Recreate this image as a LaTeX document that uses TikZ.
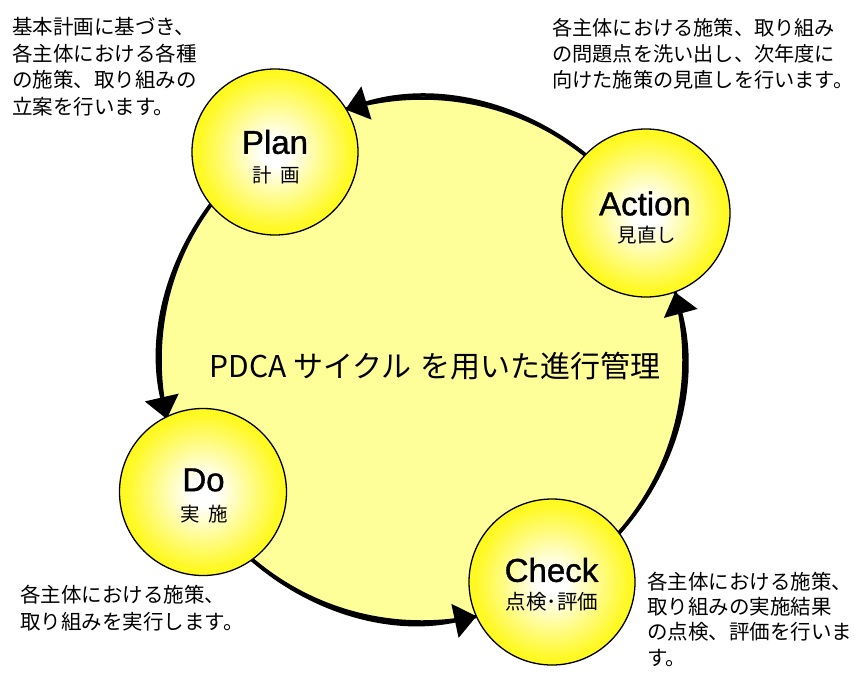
\documentclass[tikz,border=0pt]{standalone}
\usepackage{fontspec}
\setmainfont{Liberation Sans}
\newfontfamily\jp{Noto Sans CJK JP}
\newfontfamily\enb{Liberation Sans}[FakeBold=1.2]
\usetikzlibrary{arrows.meta}
\definecolor{bigfill}{RGB}{255,255,153}
\definecolor{ylw}{RGB}{255,248,0}
\colorlet{ylwA}{ylw!45!white}
\colorlet{ylwB}{ylw!85!white}
\colorlet{ylwC}{ylw!94!black}
\pgfdeclareradialshading{ballshade}{\pgfpoint{0bp}{0bp}}{color(0bp)=(white); color(4bp)=(white); color(14bp)=(ylwA); color(23bp)=(ylwB); color(31bp)=(ylw); color(50bp)=(ylwC)}
\tikzset{
  stage/.style={circle, draw=black, line width=1.3pt, shading=ballshade, minimum size=#1, inner sep=0pt, outer sep=0pt},
  flow/.style={line width=3.5pt, -{Triangle[length=22pt,width=34pt]}},
  en/.style={font=\enb\fontsize{33}{33}\selectfont, inner sep=0pt},
  jpl/.style={font=\jp\fontsize{19.5}{19.5}\selectfont, inner sep=0pt},
  note/.style={font=\jp\fontsize{20.5}{#1}\selectfont, align=left, anchor=north west, inner sep=0pt}
}
\begin{document}
\begin{tikzpicture}[x=1pt,y=1pt]
\fill[white] (0,0) rectangle (854,-672);
\useasboundingbox (0,0) rectangle (854,-672);
% big cycle
\node[circle, minimum size=524pt, inner sep=0pt, outer sep=0pt, draw=black, line width=3.5pt, fill=bigfill] (cycle) at (422,-360) {};
\node[font=\jp\fontsize{30}{30}\selectfont, inner sep=0pt] (title) at (435,-366.5) {PDCA サイクル\hspace{9pt}を用いた進行管理};
% connectors along the cycle
\draw[flow] (cycle.125) arc[start angle=125, end angle=193, radius=262pt];
\draw[flow] (cycle.211) arc[start angle=211, end angle=282, radius=262pt];
\draw[flow] (cycle.300) arc[start angle=300, end angle=375, radius=262pt];
\draw[flow] (cycle.33) arc[start angle=33, end angle=107, radius=262pt];
% stages
\node[stage=166pt] (Plan) at (275,-152) {};
\node[stage=168pt] (Action) at (646,-213) {};
\node[stage=167pt] (Do) at (203,-492) {};
\node[stage=166pt] (Check) at (552,-582) {};
\node[en] (planen) at (275,-142) {Plan};
\node[jpl] (planjp) at (276,-175.5) {計\hspace{9pt}画};
\node[en] (actionen) at (645,-203.5) {Action};
\node[jpl] (actionjp) at (647,-235) {見直し};
\node[en] (doen) at (203.5,-480) {Do};
\node[jpl] (dojp) at (204,-514) {実\hspace{9pt}施};
\node[en] (checken) at (551.5,-570) {Check};
\node[jpl, font=\jp\fontsize{20.5}{20.5}\selectfont] (checkjp) at (552,-602) {点検･評価};
% notes
\node[note=26.7] (notePlan) at (12,-17) {基本計画に基づき、\\各主体における各種\\の施策、取り組みの\\立案を行います。};
\node[note=26, font=\jp\fontsize{20.2}{26}\selectfont] (noteAction) at (552,-18) {各主体における施策、取り組み\\の問題点を洗い出し、次年度に\\向けた施策の見直しを行います。};
\node[note=25.2] (noteCheck) at (647,-572) {各主体における施策、\\取り組みの実施結果\\の点検、評価を行いま\\す。};
\node[note=27] (noteDo) at (20,-585) {各主体における施策、\\取り組みを実行します。};
\end{tikzpicture}
\end{document}
